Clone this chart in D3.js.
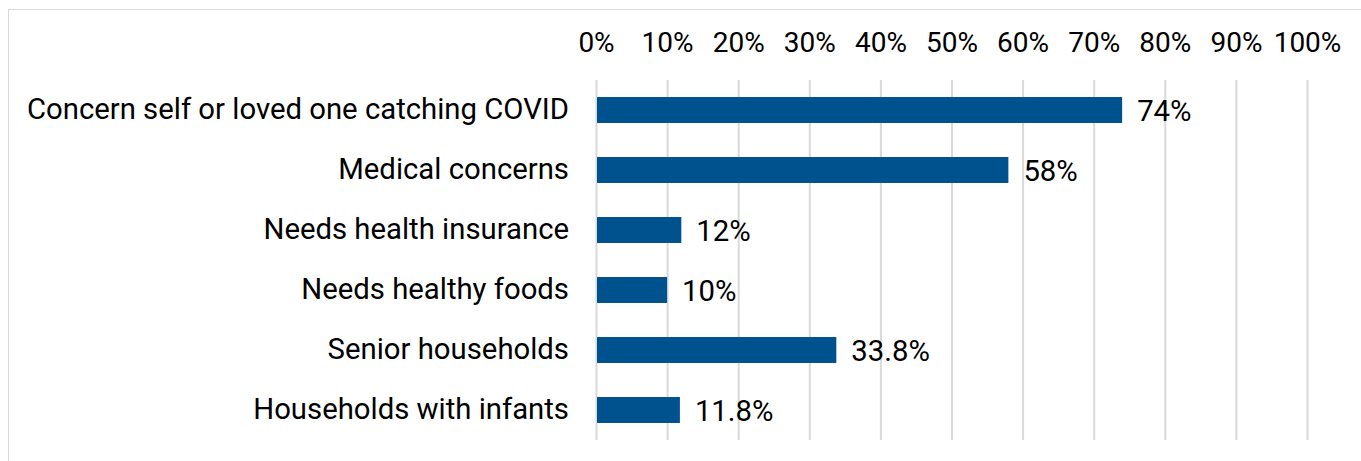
<!DOCTYPE html>
<html>
<head>
<meta charset="utf-8">
<script src="https://cdn.jsdelivr.net/npm/d3@7"></script>
<style>
  html, body { margin: 0; padding: 0; background: #fff; }
  svg { display: block; font-family: Roboto, "Noto Sans", sans-serif; }
</style>
</head>
<body>
<svg id="chart" width="1361" height="461"></svg>
<script>
// Survey reasons and their shares (percent)
const categories = [
  "Concern self or loved one catching COVID",
  "Medical concerns",
  "Needs health insurance",
  "Needs healthy foods",
  "Senior households",
  "Households with infants"
];
const values = [74, 58, 12, 10, 33.8, 11.8];
const valueLabels = ["74%", "58%", "12%", "10%", "33.8%", "11.8%"];
const tickValues = [0, 10, 20, 30, 40, 50, 60, 70, 80, 90, 100];

const svg = d3.select("#chart");
const tickFont = 28;
const labelFont = 29.3;

// Light frame around the chart area
svg.append("rect")
  .attr("x", 8.5).attr("y", 9.5)
  .attr("width", 1400).attr("height", 500)
  .attr("fill", "none")
  .attr("stroke", "#d9d9d9")
  .attr("stroke-width", 1);

const x = d3.scaleLinear().domain([0, 100]).range([596, 1307]);
const y = d3.scaleBand().domain(categories).range([80, 440])
  .paddingInner(0.567).paddingOuter(0.567 / 2);

// Percent axis on top with vertical gridlines
const xAxis = d3.axisTop(x)
  .tickValues(tickValues)
  .tickFormat(d => d + "%")
  .tickSizeInner(-360)
  .tickSizeOuter(0)
  .tickPadding(28);

const gx = svg.append("g")
  .attr("transform", "translate(0,80)")
  .call(xAxis);
gx.select(".domain").remove();
gx.selectAll(".tick line")
  .attr("stroke", "#d9d9d9")
  .attr("stroke-width", 2);
gx.selectAll(".tick text")
  .attr("fill", "#000")
  .style("font-size", tickFont + "px")
  .style("font-family", "Roboto, sans-serif");

// Bars
svg.append("g").selectAll("rect")
  .data(values)
  .join("rect")
  .attr("x", x(0) + 1)
  .attr("y", (d, i) => y(categories[i]))
  .attr("width", d => x(d) - x(0) - 1)
  .attr("height", y.bandwidth())
  .attr("fill", "#00528f");

// Category labels
svg.append("g").selectAll("text")
  .data(categories)
  .join("text")
  .attr("x", 569)
  .attr("y", d => y(d) + y.bandwidth() / 2 - 1)
  .attr("dy", "0.35em")
  .attr("text-anchor", "end")
  .attr("fill", "#000")
  .style("font-size", labelFont + "px")
  .text(d => d);

// Value labels
svg.append("g").selectAll("text")
  .data(values)
  .join("text")
  .attr("x", d => x(d) + 15)
  .attr("y", (d, i) => y(categories[i]) + y.bandwidth() / 2)
  .attr("dy", "0.36em")
  .attr("fill", "#000")
  .style("font-size", labelFont + "px")
  .text((d, i) => valueLabels[i]);
</script>
</body>
</html>
